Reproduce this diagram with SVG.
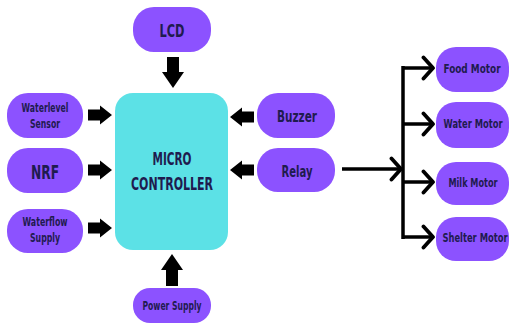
<svg xmlns="http://www.w3.org/2000/svg" width="510" height="324" viewBox="0 0 510 324">
  <style>
    .pill { fill: #8c52ff; }
    .core { fill: #5ce1e6; }
    .lbl { font-family: "DejaVu Sans Condensed", "Liberation Sans Narrow", "Liberation Sans", sans-serif; font-weight: bold; fill: #1f1b4f; text-anchor: middle; }
    .blk { fill: #000; }
    .wire { fill: none; stroke: #000; stroke-width: 3.5; }
  </style>
  <defs>
    <marker id="chev" markerUnits="userSpaceOnUse" markerWidth="20" markerHeight="26" refX="13" refY="13" orient="auto">
      <path d="M3.5,2.5 L13,13 L3.5,23.5" fill="none" stroke="#000" stroke-width="3.8" stroke-linecap="round" stroke-linejoin="round"/>
    </marker>
  </defs>

  <!-- connectors -->
  <g id="connectors">
    <!-- LCD -> controller -->
    <path class="blk" d="M167,57 H179 V72 H184 L173,88 L162,72 H167 Z"/>
    <!-- power supply -> controller -->
    <path class="blk" d="M166,286 H178 V270 H183 L172,254 L161,270 H166 Z"/>
    <!-- left inputs -> controller -->
    <path class="blk" d="M88,109.5 H100 V105.5 L112,115 L100,124.5 V120.5 H88 Z"/>
    <path class="blk" d="M88,164.5 H100 V160.5 L112,170 L100,179.5 V175.5 H88 Z"/>
    <path class="blk" d="M88,222.5 H100 V218.5 L112,228 L100,237.5 V233.5 H88 Z"/>
    <!-- buzzer / relay -> controller -->
    <path class="blk" d="M254,111.5 H242 V107.5 L230,117 L242,126.5 V122.5 H254 Z"/>
    <path class="blk" d="M254,164.5 H242 V160.5 L230,170 L242,179.5 V175.5 H254 Z"/>
    <!-- relay -> motor bus -->
    <line class="wire" x1="342" y1="169" x2="401" y2="169" marker-end="url(#chev)"/>
    <line class="wire" x1="403" y1="66" x2="403" y2="239"/>
    <line class="wire" x1="402" y1="68" x2="433" y2="68" marker-end="url(#chev)"/>
    <line class="wire" x1="402" y1="124" x2="433" y2="124" marker-end="url(#chev)"/>
    <line class="wire" x1="402" y1="182" x2="433" y2="182" marker-end="url(#chev)"/>
    <line class="wire" x1="402" y1="237" x2="433" y2="237" marker-end="url(#chev)"/>
  </g>

  <!-- labels use a narrowed bold face: scale(0.72,1) with a matching textLength -->
  <g id="lcd">
    <rect class="pill" x="133" y="7" width="78" height="45" rx="21"/>
    <text class="lbl" transform="translate(172,37) scale(0.72,1)" font-size="17" textLength="34.7" lengthAdjust="spacingAndGlyphs">LCD</text>
  </g>

  <g id="controller">
    <rect class="core" x="115" y="93" width="113" height="157" rx="18"/>
    <text class="lbl" transform="translate(172,165) scale(0.72,1)" font-size="18" textLength="54.2" lengthAdjust="spacingAndGlyphs">MICRO</text>
    <text class="lbl" transform="translate(172,190) scale(0.72,1)" font-size="18" textLength="113.9" lengthAdjust="spacingAndGlyphs">CONTROLLER</text>
  </g>

  <g id="waterlevel">
    <rect class="pill" x="7" y="93" width="76" height="45" rx="21"/>
    <text class="lbl" transform="translate(45,112) scale(0.72,1)" font-size="12.5" textLength="65.3" lengthAdjust="spacingAndGlyphs">Waterlevel</text>
    <text class="lbl" transform="translate(45,128) scale(0.72,1)" font-size="12.5" textLength="41.7" lengthAdjust="spacingAndGlyphs">Sensor</text>
  </g>

  <g id="nrf">
    <rect class="pill" x="7" y="148" width="76" height="45" rx="21"/>
    <text class="lbl" transform="translate(45,179) scale(0.72,1)" font-size="19" textLength="38.9" lengthAdjust="spacingAndGlyphs">NRF</text>
  </g>

  <g id="waterflow">
    <rect class="pill" x="7" y="209" width="76" height="44" rx="21"/>
    <text class="lbl" transform="translate(45,226) scale(0.72,1)" font-size="12.5" textLength="62.5" lengthAdjust="spacingAndGlyphs">Waterflow</text>
    <text class="lbl" transform="translate(45,242) scale(0.72,1)" font-size="12.5" textLength="41.7" lengthAdjust="spacingAndGlyphs">Supply</text>
  </g>

  <g id="power">
    <rect class="pill" x="133" y="288" width="78" height="35" rx="17"/>
    <text class="lbl" transform="translate(172,310) scale(0.72,1)" font-size="12.5" textLength="81.9" lengthAdjust="spacingAndGlyphs">Power Supply</text>
  </g>

  <g id="buzzer">
    <rect class="pill" x="257" y="93" width="78" height="45" rx="21"/>
    <text class="lbl" transform="translate(297,122) scale(0.72,1)" font-size="16" textLength="55.6" lengthAdjust="spacingAndGlyphs">Buzzer</text>
  </g>

  <g id="relay">
    <rect class="pill" x="257" y="148" width="78" height="44" rx="21"/>
    <text class="lbl" transform="translate(297,177) scale(0.72,1)" font-size="16" textLength="43.1" lengthAdjust="spacingAndGlyphs">Relay</text>
  </g>

  <g id="food-motor">
    <rect class="pill" x="436" y="47" width="73" height="45" rx="20"/>
    <text class="lbl" transform="translate(472,73) scale(0.72,1)" font-size="13" textLength="79.2" lengthAdjust="spacingAndGlyphs">Food Motor</text>
  </g>

  <g id="water-motor">
    <rect class="pill" x="436" y="102" width="73" height="46" rx="20"/>
    <text class="lbl" transform="translate(473,128) scale(0.72,1)" font-size="13" textLength="81.9" lengthAdjust="spacingAndGlyphs">Water Motor</text>
  </g>

  <g id="milk-motor">
    <rect class="pill" x="436" y="162" width="73" height="43" rx="20"/>
    <text class="lbl" transform="translate(473,187) scale(0.72,1)" font-size="13" textLength="68.1" lengthAdjust="spacingAndGlyphs">Milk Motor</text>
  </g>

  <g id="shelter-motor">
    <rect class="pill" x="436" y="217" width="73" height="44" rx="20"/>
    <text class="lbl" transform="translate(475,242) scale(0.72,1)" font-size="13" textLength="90.3" lengthAdjust="spacingAndGlyphs">Shelter Motor</text>
  </g>
</svg>
